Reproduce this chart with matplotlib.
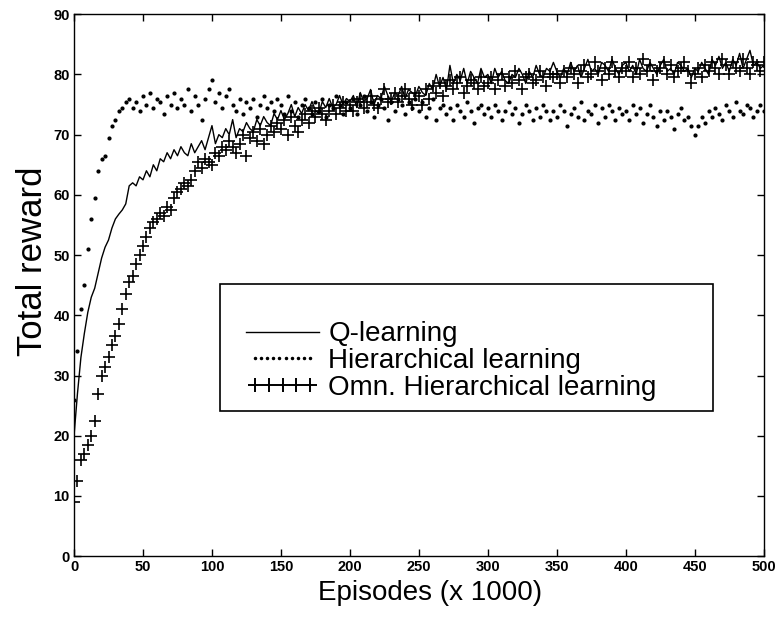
import matplotlib
matplotlib.use("Agg")
import matplotlib.pyplot as plt
import numpy as np
from matplotlib.lines import Line2D
from matplotlib.patches import Rectangle
from matplotlib.legend_handler import HandlerLine2D

# episodes (x 1000), sampled every 2.5
episodes = np.arange(0, 500.1, 2.5)

q_learning = [
    20, 27, 33, 37, 40.5, 43, 44.5, 47, 49.5, 51.3, 52.5, 54.5, 56, 56.8, 57.5, 58.5, 61.5, 62, 61.5, 63,
    62.5, 64, 63, 65, 64, 66, 65.5, 67, 66, 67.5, 66.5, 68, 67, 66.5, 68.5, 67, 68, 69, 67.5, 69.5,
    71.5, 68.5, 70, 69.5, 71, 70, 72.5, 69.5, 71, 70.5, 72, 71, 70.5, 72.5, 71.5, 73, 72, 71.5, 73.5, 72.5,
    74, 72.5, 73.5, 75, 73, 74.5, 73.5, 75, 74, 75.5, 74, 73.5, 75.5, 74.5, 76, 74.5, 75, 76.5, 75, 76,
    75.5, 76.5, 74.5, 77, 75.5, 76, 77.5, 75, 76.5, 76, 78, 76.5, 75.5, 77, 76.5, 78, 76, 77.5, 77, 76.5,
    78, 77, 76.5, 78.5, 77.5, 80, 78, 79.5, 77.5, 81.5, 78.5, 80, 79, 81, 78.5, 80.5, 79.5, 78.5, 81, 79.5,
    80, 78.5, 81, 79.5, 80.5, 79, 78.5, 80, 79.5, 81, 80, 78.5, 80.5, 79.5, 81.5, 80, 79.5, 81, 80.5, 82,
    80.5, 79.5, 81, 80, 82, 80.5, 81.5, 79.5, 81, 82.5, 80.5, 81, 80, 82, 81.5, 80.5, 82.5, 81, 80, 81.5,
    82, 80.5, 81.5, 80, 82.5, 81, 80.5, 82, 81, 80, 81.5, 82.5, 80.5, 81, 80, 82, 81.5, 80.5, 81, 79.5,
    81, 80.5, 82, 81, 80, 82.5, 81.5, 83, 81, 82, 80.5, 82.5, 81.5, 83.5, 81, 82.5, 84, 81.5, 82, 81,
    81.5,
]

hierarchical = [
    26, 34, 41, 45, 51, 56, 59.5, 64, 66, 66.5, 69.5, 71.5, 72.5, 74, 74.5, 75.5, 76, 74.5, 75.5, 74,
    76.5, 75, 77, 74.5, 76, 75.5, 73.5, 76.5, 75, 77, 74.5, 76, 75, 77.5, 74, 76.5, 75, 72.5, 76, 77.5,
    79, 75.5, 77, 74.5, 76.5, 77.5, 75, 74, 76, 73.5, 75.5, 74.5, 76, 73, 75, 76.5, 74.5, 75.5, 74, 76,
    75, 73.5, 76.5, 74, 75.5, 73, 75, 76, 74.5, 73.5, 75.5, 74, 76, 73, 75, 74.5, 76.5, 75, 73.5, 75.5,
    74.5, 76, 73.5, 75, 76.5, 74, 75.5, 73, 75, 76, 74.5, 72.5, 75.5, 74, 76, 75, 73.5, 75.5, 74.5, 76,
    74, 75.5, 73, 74.5, 76, 72.5, 74.5, 75, 73.5, 74.5, 72.5, 75, 74, 73, 75.5, 74, 72, 74.5, 75, 73.5,
    74.5, 73, 75, 74, 72.5, 74, 75.5, 73.5, 74.5, 72, 73.5, 75, 74, 72.5, 74.5, 73, 75, 74, 72.5, 74,
    73, 75, 74, 71.5, 73.5, 74.5, 73, 75.5, 72.5, 74, 73.5, 75, 72, 74.5, 73, 75, 74, 72.5, 74.5, 73.5,
    74, 72.5, 75, 73.5, 74.5, 72, 73.5, 75, 73, 71.5, 74, 72.5, 74, 73, 71, 73.5, 74.5, 72.5, 73, 71.5,
    70, 71.5, 73, 72, 74, 73, 74.5, 73.5, 72.5, 75, 74, 73, 75.5, 74, 73.5, 75, 74.5, 73, 74, 75,
    74,
]

omn_hierarchical = [
    9, 12.5, 16, 17, 18.5, 20, 22.5, 27, 30, 31.5, 33, 35, 36.5, 38.5, 41, 43.5, 45.5, 46.5, 48.5, 50,
    51.5, 53, 54.5, 55.5, 56, 57, 56.5, 58, 57.5, 59.5, 60.5, 61, 62, 61.5, 62.5, 64, 65.5, 64.5, 66, 65.5,
    65, 67, 66.5, 68, 67.5, 69, 68, 67, 68.5, 70, 66.5, 69.5, 70.5, 69, 71, 68.5, 70, 71.5, 70.5, 72,
    71, 72.5, 70, 73, 71.5, 70.5, 72.5, 73.5, 72, 74, 73, 74.5, 73.5, 72.5, 74, 75, 73.5, 74.5, 75.5, 74,
    75, 74, 75.5, 76, 74.5, 75.5, 76.5, 75, 74.5, 76, 77.5, 75.5, 76, 77, 75.5, 76.5, 77.5, 76, 75, 77,
    76.5, 75, 77.5, 76, 78, 77, 78.5, 76.5, 78, 79, 77.5, 78.5, 79.5, 77, 78, 79, 78.5, 77.5, 79.5, 78,
    78.5, 79.5, 77.5, 79, 80, 78, 79.5, 78.5, 80.5, 79, 77.5, 79.5, 80, 78.5, 79, 80.5, 79.5, 78, 80, 79.5,
    80, 78.5, 80.5, 79.5, 81, 80, 78.5, 80.5, 81.5, 79.5, 80, 82, 80.5, 79, 81, 80, 82, 80.5, 79.5, 81,
    80.5, 82, 79.5, 81, 80, 82.5, 80.5, 81.5, 79, 80.5, 81, 82, 80, 81.5, 79.5, 80.5, 81, 82, 80.5, 78.5,
    80, 81, 79.5, 81.5, 80.5, 82, 81, 80, 82.5, 81.5, 80, 82, 81, 80.5, 82.5, 81, 80, 82, 81.5, 80.5,
    82,
]

labels = ["Q-learning", "Hierarchical learning", "Omn. Hierarchical learning"]

plt.rcParams["font.family"] = ["Liberation Sans", "DejaVu Sans"]

fig = plt.figure(figsize=(7.75, 6.18), dpi=100)
ax = fig.add_axes([0.0955, 0.100, 0.890, 0.877])

ax.plot(episodes, q_learning, color="black", lw=1.0)
ax.plot(episodes, hierarchical, ls="none", marker=".", ms=4, color="black")
ax.plot(episodes, omn_hierarchical, ls="none", marker="+", ms=8, mew=1.2, color="black")

ax.set_xlim(0, 500)
ax.set_ylim(0, 90)
ax.set_xticks(np.arange(0, 501, 50))
ax.set_yticks(np.arange(0, 91, 10))
ax.tick_params(direction="in", top=True, right=True, length=5, width=1, labelsize=10.5, pad=3)
for lab in ax.get_xticklabels() + ax.get_yticklabels():
    lab.set_fontweight("bold")
for s in ax.spines.values():
    s.set_linewidth(1.0)

ax.set_xlabel("Episodes (x 1000)", fontsize=20)
ax.set_ylabel("Total reward", fontsize=25)
ax.xaxis.set_label_coords(0.516, -0.043)
ax.yaxis.set_label_coords(-0.036, 0.544)

# legend box (MATLAB style: box drawn separately, rows sit low in it)
ax.add_patch(Rectangle((0.212, 0.2675), 0.714, 0.2345, transform=ax.transAxes,
                       facecolor="white", edgecolor="black", lw=1.2, zorder=3))
h_q = Line2D([], [], color="black", lw=1.0)
h_h = Line2D([], [], color="black", ls="none", marker=".", ms=3)
h_o = Line2D([], [], color="black", ls="none", marker="+", ms=9.5, mew=1.4)
leg = ax.legend([h_q, h_h, h_o], labels,
                handler_map={h_h: HandlerLine2D(numpoints=10), h_o: HandlerLine2D(numpoints=5)},
                loc="center left", bbox_to_anchor=(0.250, 0.360),
                fontsize=20, frameon=False, handlelength=2.6, handletextpad=0.35,
                labelspacing=0.03, borderpad=0, borderaxespad=0)
leg.set_zorder(4)

fig.savefig("out.png", dpi=100)
